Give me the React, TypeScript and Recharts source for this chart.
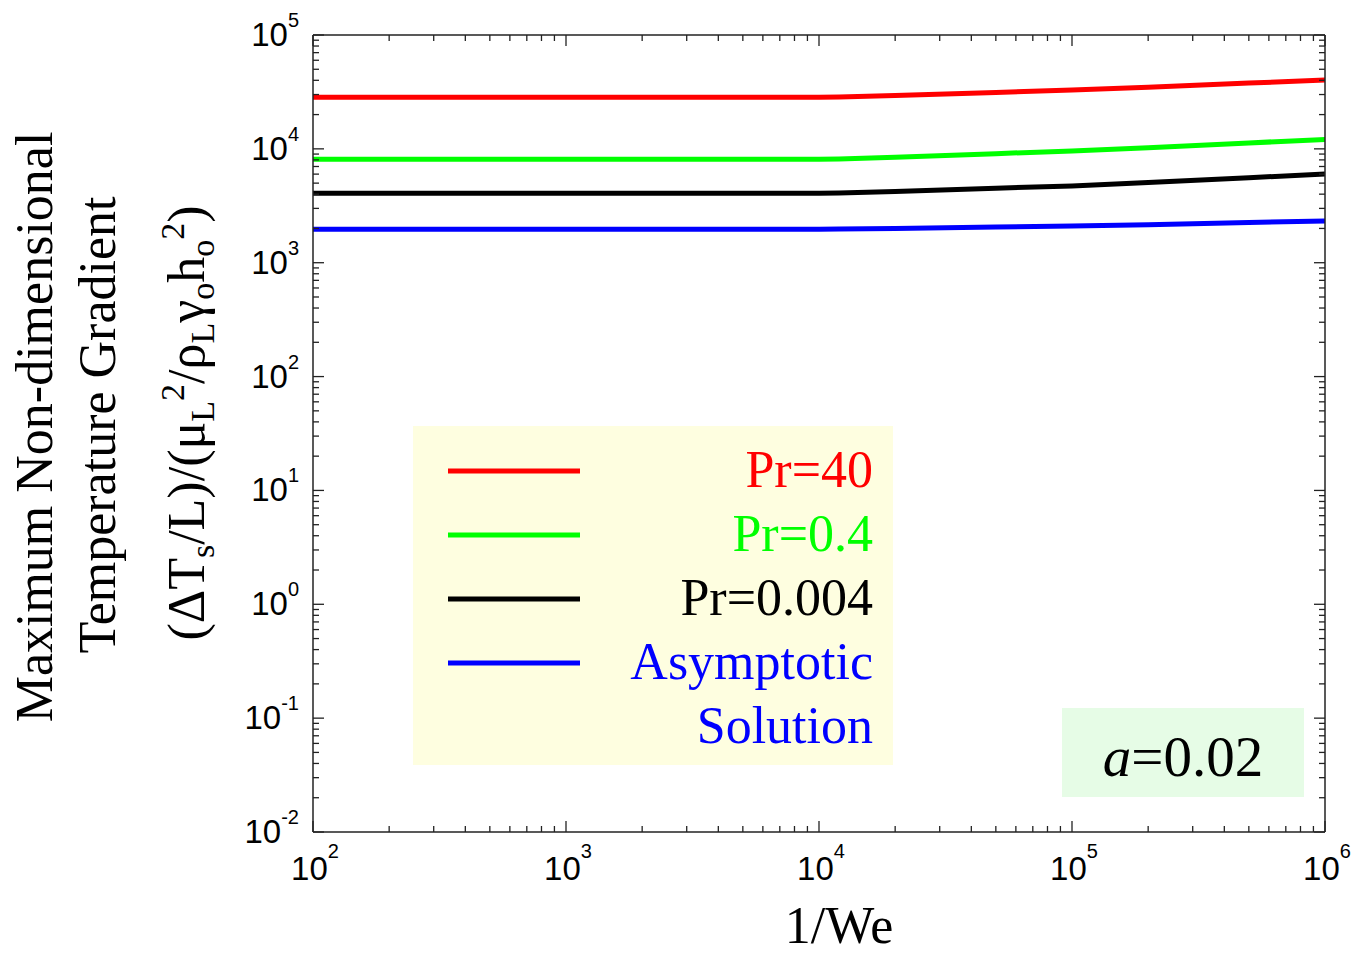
import { Legend, Line, LineChart, XAxis, YAxis } from "recharts";

// 1/We sample points and maximum non-dimensional temperature gradient per series
const INV_WE = [100, 1000, 10000, 12000, 20000, 50000, 100000, 200000, 500000, 1000000];
const PR_40 = [28400, 28400, 28400, 28500, 29400, 31300, 32800, 34700, 37800, 40300];
const PR_0_4 = [8100, 8100, 8100, 8150, 8450, 9080, 9570, 10240, 11270, 12100];
const PR_0_004 = [4080, 4080, 4080, 4100, 4230, 4510, 4730, 5060, 5580, 6020];
const ASYMPTOTIC = [1970, 1970, 1970, 1975, 2000, 2055, 2105, 2160, 2255, 2330];

const SERIES = [
  { key: "pr40", name: "Pr=40", color: "#ff0000", values: PR_40 },
  { key: "pr04", name: "Pr=0.4", color: "#00ff00", values: PR_0_4 },
  { key: "pr0004", name: "Pr=0.004", color: "#000000", values: PR_0_004 },
  { key: "asym", name: "Asymptotic Solution", color: "#0000ff", values: ASYMPTOTIC },
];

// decade exponents for the tick labels
const X_EXPONENTS = [2, 3, 4, 5, 6];
const Y_EXPONENTS = [-2, -1, 0, 1, 2, 3, 4, 5];

const WIDTH = 1351;
const HEIGHT = 957;
const AXIS = "#222";
const SANS = "'Liberation Sans', Arial, sans-serif";
const SERIF = "'Liberation Serif', 'Times New Roman', serif";

function logTicks(exps: number[]) {
  const ticks: number[] = [];
  exps.forEach((e, i) => {
    const base = Math.pow(10, e);
    ticks.push(base);
    if (i < exps.length - 1) for (let k = 2; k <= 9; k++) ticks.push(k * base);
  });
  return ticks;
}

const X_TICKS = logTicks(X_EXPONENTS);
const Y_TICKS = logTicks(Y_EXPONENTS);

function decade(v: number) {
  const exp = Math.round(Math.log10(v));
  const major = Math.abs(v - Math.pow(10, exp)) < 1e-9 * v;
  return { exp, major };
}

const data = INV_WE.map((x, i) => {
  const row: Record<string, number> = { x };
  for (const s of SERIES) row[s.key] = s.values[i];
  return row;
});

function BottomTick({ x, y, payload }: any) {
  const { exp, major } = decade(payload.value);
  return (
    <g>
      <line x1={x} x2={x} y1={y} y2={y - (major ? 11 : 6)} stroke={AXIS} strokeWidth={1.3} />
      {major && (
        <text x={x + 2} y={y + 48} textAnchor="middle" fontFamily={SANS} fontSize={33} fill="#000">
          10
          <tspan dy={-22} fontSize={20}>
            {exp}
          </tspan>
        </text>
      )}
    </g>
  );
}

function TopTick({ x, y, payload }: any) {
  const { major } = decade(payload.value);
  return <line x1={x} x2={x} y1={y} y2={y + (major ? 11 : 6)} stroke={AXIS} strokeWidth={1.3} />;
}

function LeftTick({ x, y, payload }: any) {
  const { exp, major } = decade(payload.value);
  return (
    <g>
      <line x1={x} x2={x + (major ? 11 : 6)} y1={y} y2={y} stroke={AXIS} strokeWidth={1.3} />
      {major && (
        <text x={x - 14} y={y + 11} textAnchor="end" fontFamily={SANS} fontSize={33} fill="#000">
          10
          <tspan dy={-19} fontSize={20}>
            {exp}
          </tspan>
        </text>
      )}
    </g>
  );
}

function RightTick({ x, y, payload }: any) {
  const { major } = decade(payload.value);
  return <line x1={x} x2={x - (major ? 11 : 6)} y1={y} y2={y} stroke={AXIS} strokeWidth={1.3} />;
}

function LegendBox({ payload }: any) {
  const order = SERIES.map((s) => s.name);
  const items = [...(payload ?? [])].sort((a, b) => order.indexOf(a.value) - order.indexOf(b.value));
  return (
    <svg width={480} height={339} style={{ display: "block" }}>
      <rect x={0} y={0} width={480} height={339} fill="#fefee0" />
      {items.map((item: any, i: number) => {
        const ly = 45 + i * 64;
        return (
          <g key={item.value}>
            <line x1={35} x2={167} y1={ly} y2={ly} stroke={item.color} strokeWidth={5} />
            {String(item.value)
              .split(" ")
              .map((word: string, j: number) => (
                <text
                  key={word}
                  x={460}
                  y={ly + 16 + j * 64}
                  textAnchor="end"
                  fontFamily={SERIF}
                  fontSize={52}
                  fill={item.color}
                >
                  {word}
                </text>
              ))}
          </g>
        );
      })}
    </svg>
  );
}

export default function App() {
  const axisLine = { stroke: AXIS, strokeWidth: 1.5 };
  return (
    <div style={{ position: "absolute", left: 0, top: 0, width: WIDTH, height: HEIGHT, background: "#fff" }}>
      <LineChart width={WIDTH} height={HEIGHT} data={data} margin={{ top: 5, right: 0, bottom: 0, left: 0 }}>
        <XAxis
          xAxisId="b"
          dataKey="x"
          type="number"
          scale="log"
          domain={[100, 1000000]}
          ticks={X_TICKS}
          interval={0}
          height={125}
          tickSize={0}
          tickMargin={0}
          tickLine={false}
          axisLine={axisLine}
          tick={(p: any) => <BottomTick {...p} />}
          allowDataOverflow
        />
        <XAxis
          xAxisId="t"
          orientation="top"
          dataKey="x"
          type="number"
          scale="log"
          domain={[100, 1000000]}
          ticks={X_TICKS}
          interval={0}
          height={30}
          tickSize={0}
          tickMargin={0}
          tickLine={false}
          axisLine={axisLine}
          tick={(p: any) => <TopTick {...p} />}
          allowDataOverflow
        />
        <YAxis
          yAxisId="l"
          type="number"
          scale="log"
          domain={[0.01, 100000]}
          ticks={Y_TICKS}
          interval={0}
          width={313}
          tickSize={0}
          tickMargin={0}
          tickLine={false}
          axisLine={axisLine}
          tick={(p: any) => <LeftTick {...p} />}
          allowDataOverflow
        />
        <YAxis
          yAxisId="r"
          orientation="right"
          type="number"
          scale="log"
          domain={[0.01, 100000]}
          ticks={Y_TICKS}
          interval={0}
          width={26}
          tickSize={0}
          tickMargin={0}
          tickLine={false}
          axisLine={axisLine}
          tick={(p: any) => <RightTick {...p} />}
          allowDataOverflow
        />
        {SERIES.map((s) => (
          <Line
            key={s.key}
            xAxisId="b"
            yAxisId="l"
            type="linear"
            dataKey={s.key}
            name={s.name}
            stroke={s.color}
            strokeWidth={5}
            dot={false}
            isAnimationActive={false}
          />
        ))}
        <Legend
          layout="vertical"
          align="center"
          verticalAlign="middle"
          content={(p: any) => <LegendBox {...p} />}
          wrapperStyle={{ position: "absolute", left: 413, top: 426, width: 480, height: 339 }}
        />
      </LineChart>
      <svg
        width={WIDTH}
        height={HEIGHT}
        style={{ position: "absolute", left: 0, top: 0, pointerEvents: "none" }}
      >
        <g fontFamily={SERIF} fontSize={52} fill="#000">
          <text transform="rotate(-90)" x={-427} y={52} textAnchor="middle">
            Maximum Non-dimensional
          </text>
          <text transform="rotate(-90)" x={-425} y={115} textAnchor="middle">
            Temperature Gradient
          </text>
          <text transform="rotate(-90)" x={-423} y={204} textAnchor="middle">
            (ΔT
            <tspan dy={10} fontSize={34}>s</tspan>
            <tspan dy={-10}>/L)/(μ</tspan>
            <tspan dy={10} fontSize={34}>L</tspan>
            <tspan dy={-30} fontSize={34}>2</tspan>
            <tspan dy={20}>/ρ</tspan>
            <tspan dy={10} fontSize={34}>L</tspan>
            <tspan dy={-10}>γ</tspan>
            <tspan dy={10} fontSize={34}>o</tspan>
            <tspan dy={-10}>h</tspan>
            <tspan dy={10} fontSize={34}>o</tspan>
            <tspan dy={-30} fontSize={34}>2</tspan>
            <tspan dy={20}>)</tspan>
          </text>
          <text x={839} y={943} textAnchor="middle">
            1/We
          </text>
        </g>
        <rect x={1062} y={708} width={242} height={89} fill="#e6fce6" />
        <text x={1183} y={776} textAnchor="middle" fontFamily={SERIF} fontSize={57} fill="#000">
          <tspan fontStyle="italic">a</tspan>=0.02
        </text>
      </svg>
    </div>
  );
}
